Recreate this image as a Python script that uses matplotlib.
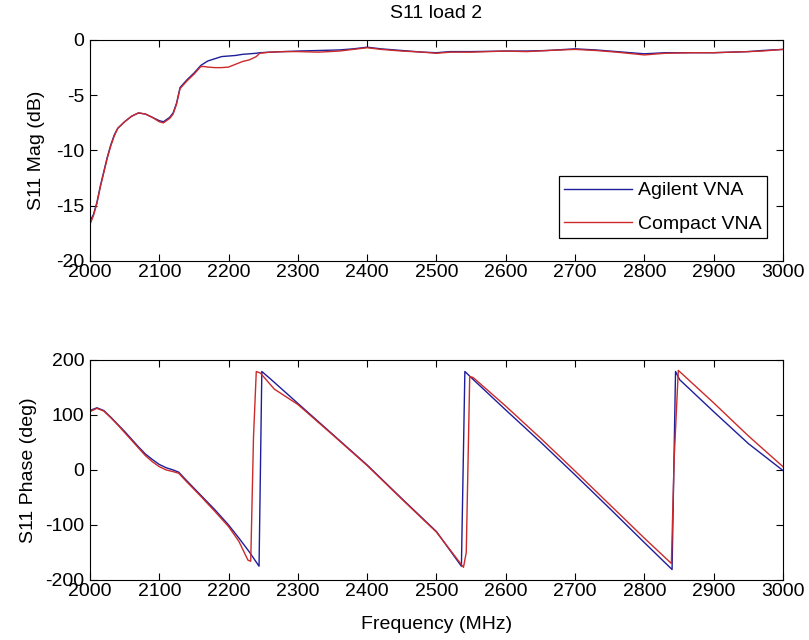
import numpy as np
import matplotlib.pyplot as plt

plt.rcParams['font.family'] = ['Liberation Sans', 'DejaVu Sans']
plt.rcParams['font.size'] = 14
plt.rcParams['axes.unicode_minus'] = False

# S11 magnitude (dB)
mag_freq = [2000, 2005, 2010, 2015, 2020, 2025, 2030, 2035, 2040, 2050, 2060, 2070, 2080, 2090,
            2100, 2106, 2115, 2120, 2125, 2130, 2140, 2150, 2160, 2165, 2170, 2180, 2190, 2200,
            2210, 2220, 2230, 2240, 2245, 2260, 2280, 2300, 2330, 2360, 2380, 2400, 2420, 2450,
            2480, 2500, 2520, 2550, 2600, 2630, 2660, 2700, 2730, 2760, 2800, 2830, 2870, 2900,
            2950, 2970, 3000]
mag_agilent = [-16.4, -15.8, -14.7, -13.2, -11.9, -10.6, -9.5, -8.6, -8.0, -7.4, -6.9, -6.6, -6.7, -7.0,
               -7.3, -7.4, -7.0, -6.6, -5.7, -4.3, -3.6, -3.0, -2.3, -2.1, -1.9, -1.7, -1.5, -1.45,
               -1.4, -1.3, -1.25, -1.2, -1.15, -1.1, -1.05, -1.0, -0.95, -0.9, -0.8, -0.65, -0.8, -0.95,
               -1.1, -1.15, -1.05, -1.05, -1.0, -1.0, -0.95, -0.8, -0.9, -1.05, -1.25, -1.15, -1.15, -1.15,
               -1.05, -0.95, -0.85]
mag_compact = [-16.7, -15.9, -14.8, -13.3, -12.0, -10.7, -9.6, -8.7, -8.0, -7.4, -6.9, -6.6, -6.7, -7.0,
               -7.4, -7.5, -7.1, -6.7, -5.8, -4.4, -3.7, -3.1, -2.4, -2.4, -2.45, -2.5, -2.5, -2.45,
               -2.2, -1.95, -1.8, -1.5, -1.2, -1.1, -1.05, -1.05, -1.1, -1.0, -0.85, -0.7, -0.85, -1.0,
               -1.1, -1.2, -1.1, -1.1, -1.0, -1.05, -0.95, -0.85, -0.95, -1.1, -1.35, -1.2, -1.15, -1.15,
               -1.05, -1.0, -0.85]

# S11 phase (deg)
ph_freq_agilent = [2000, 2010, 2020, 2030, 2040, 2050, 2060, 2070, 2080, 2090, 2100, 2110, 2120, 2128,
                   2140, 2160, 2180, 2200, 2215, 2230, 2244, 2248, 2260, 2300, 2350, 2400, 2450, 2500,
                   2536, 2541, 2550, 2600, 2650, 2700, 2750, 2800, 2840, 2845, 2851, 2900, 2950, 3000]
ph_agilent = [108, 113, 108, 96, 83, 70, 56, 42, 29, 19, 10, 4, 0, -4,
              -20, -46, -72, -100, -124, -149, -175, 179, 166, 121, 65, 9, -52, -112,
              -175, 179, 168, 109, 51, -9, -70, -132, -181, 179, 164, 106, 48, -1]
ph_freq_compact = [2000, 2010, 2020, 2030, 2040, 2050, 2060, 2070, 2080, 2090, 2100, 2110, 2120, 2128,
                   2140, 2160, 2180, 2200, 2215, 2228, 2232, 2236, 2240, 2246, 2266, 2300, 2350, 2400,
                   2450, 2500, 2539, 2543, 2548, 2553, 2600, 2650, 2700, 2750, 2800, 2839, 2843, 2849,
                   2900, 2950, 3000]
ph_compact = [106, 112, 107, 95, 82, 68, 54, 40, 26, 15, 6, 0, -3, -6,
              -22, -48, -75, -103, -130, -164, -166, 60, 179, 176, 147, 119, 64, 8,
              -53, -113, -177, -150, 170, 168, 116, 58, -2, -63, -124, -170, 20, 181,
              122, 62, 6]

blue = '#1e1e9c'
red = '#cc2a2a'
xticks = np.arange(2000, 3001, 100)

fig = plt.figure(figsize=(8.09, 6.40), dpi=100)

#上图：幅度
ax1 = fig.add_axes([0.1112, 0.5922, 0.8566, 0.3453])
ax1.plot(mag_freq, mag_agilent, color=blue, lw=1.0, label='Agilent VNA')
ax1.plot(mag_freq, mag_compact, color=red, lw=1.0, label='Compact VNA')
ax1.set_xlim(2000, 3000)
ax1.set_ylim(-20, 0)
ax1.set_xticks(xticks)
ax1.set_yticks([-20, -15, -10, -5, 0])
ax1.set_ylabel('S11 Mag (dB)', labelpad=8)
ax1.set_title('S11 load 2', fontsize=14, pad=16)
leg = ax1.legend(loc='lower right', bbox_to_anchor=(0.977, 0.104), borderaxespad=0,
                 fancybox=False, edgecolor='black', framealpha=1, handlelength=3.5,
                 handletextpad=0.3, borderpad=0.28, labelspacing=0.8)
leg.get_frame().set_linewidth(0.9)

#下图：相位
ax2 = fig.add_axes([0.1112, 0.0938, 0.8566, 0.3438])
ax2.plot(ph_freq_agilent, ph_agilent, color=blue, lw=1.0)
ax2.plot(ph_freq_compact, ph_compact, color=red, lw=1.0)
ax2.set_xlim(2000, 3000)
ax2.set_ylim(-200, 200)
ax2.set_xticks(xticks)
ax2.set_yticks([-200, -100, 0, 100, 200])
ax2.set_ylabel('S11 Phase (deg)', labelpad=6)
ax2.set_xlabel('Frequency (MHz)', labelpad=12)

for ax in (ax1, ax2):
    ax.tick_params(direction='in', top=True, right=True, length=5, width=0.8)
    ax.tick_params(axis='x', pad=2)
    ax.tick_params(axis='y', pad=4)
    for s in ax.spines.values():
        s.set_linewidth(0.8)

plt.savefig('out.png', dpi=100)
